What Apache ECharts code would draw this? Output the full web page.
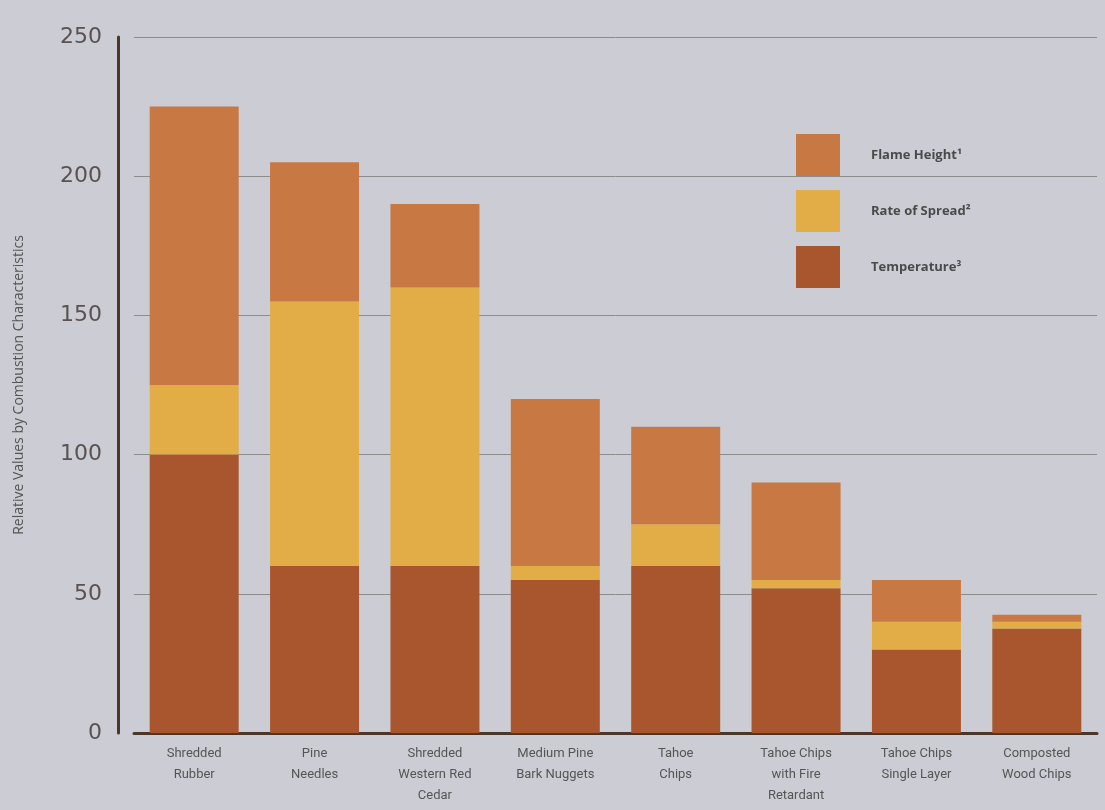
<!DOCTYPE html>
<html>
<head>
<meta charset="utf-8">
<script src="https://cdn.jsdelivr.net/npm/echarts@6/dist/echarts.min.js"></script>
<style>
html,body{margin:0;padding:0;background:#cccdd4;}
#chart{width:1105px;height:810px;}
</style>
</head>
<body>
<div id="chart"></div>
<script>
const categories = [
  "Shredded\nRubber",
  "Pine\nNeedles",
  "Shredded\nWestern Red\nCedar",
  "Medium Pine\nBark Nuggets",
  "Tahoe\nChips",
  "Tahoe Chips\nwith Fire\nRetardant",
  "Tahoe Chips\nSingle Layer",
  "Composted\nWood Chips"
];
const temperature = [100, 60, 60, 55, 60, 52, 30, 37.5];
const rateOfSpread = [25, 95, 100, 5, 15, 3, 10, 2.5];
const flameHeight = [100, 50, 30, 60, 35, 35, 15, 2.5];
const seriesNames = ["Flame Height\u00B9", "Rate of Spread\u00B2", "Temperature\u00B3"];
const yTicks = { min: 0, max: 250, interval: 50 };

const chart = echarts.init(document.getElementById('chart'));
const colors = { flame: '#c87843', rate: '#e2ad46', temp: '#a9562f' };

chart.setOption({
  backgroundColor: '#cccdd4',
  animation: false,
  grid: { left: 134, right: 8, top: 37, bottom: 77 },
  legend: {
    orient: 'vertical',
    left: 791,
    top: 129,
    itemWidth: 44,
    itemHeight: 42,
    itemGap: 14,
    icon: 'rect',
    data: [seriesNames[0], seriesNames[1], seriesNames[2]],
    textStyle: { fontFamily: 'Open Sans', fontWeight: 'bold', fontSize: 13, color: '#4a4a4a', padding: [0, 0, 0, 26] }
  },
  xAxis: {
    type: 'category',
    data: categories,
    axisLine: { lineStyle: { color: '#4b3628', width: 3 } },
    axisTick: { show: false },
    axisLabel: { fontFamily: 'Roboto', fontSize: 13, color: '#555', lineHeight: 21, margin: 10, interval: 0 }
  },
  yAxis: {
    type: 'value',
    min: yTicks.min, max: yTicks.max, interval: yTicks.interval,
    offset: 16,
    name: 'Relative Values by Combustion Characteristics',
    nameLocation: 'middle',
    nameGap: 92,
    nameTextStyle: { fontFamily: 'Open Sans', fontSize: 14, color: '#555' },
    axisLine: { show: true, lineStyle: { color: '#4b3628', width: 3 } },
    axisTick: { show: false },
    axisLabel: { fontFamily: 'DejaVu Sans', fontSize: 22, color: '#5a5252', margin: 16 },
    splitLine: { lineStyle: { color: '#8c8c8c', width: 1 } }
  },
  series: [
    { name: seriesNames[2], type: 'bar', stack: 'a', barWidth: 89, data: temperature, itemStyle: { color: colors.temp } },
    { name: seriesNames[1], type: 'bar', stack: 'a', barWidth: 89, data: rateOfSpread, itemStyle: { color: colors.rate } },
    { name: seriesNames[0], type: 'bar', stack: 'a', barWidth: 89, data: flameHeight, itemStyle: { color: colors.flame } }
  ]
});
</script>
</body>
</html>
